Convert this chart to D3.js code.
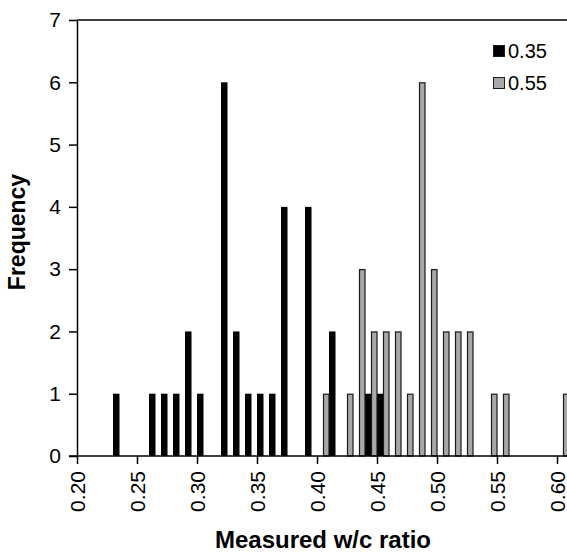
<!DOCTYPE html>
<html>
<head>
<meta charset="utf-8">
<script src="https://cdn.jsdelivr.net/npm/d3@7"></script>
<style>
  body { margin: 0; background: #fff; }
  svg { display: block; font-family: "Liberation Sans", Arial, sans-serif; }
</style>
</head>
<body>
<div class="chart"></div>
<script>
// measured w/c ratio bins (0.01 wide)
var bins = [0.23, 0.24, 0.25, 0.26, 0.27, 0.28, 0.29, 0.30, 0.31, 0.32,
            0.33, 0.34, 0.35, 0.36, 0.37, 0.38, 0.39, 0.40, 0.41, 0.42,
            0.43, 0.44, 0.45, 0.46, 0.47, 0.48, 0.49, 0.50, 0.51, 0.52,
            0.53, 0.54, 0.55, 0.56, 0.57, 0.58, 0.59, 0.60, 0.61];
// frequency for target w/c 0.35
var counts035 = [1, 0, 0, 1, 1, 1, 2, 1, 0, 6,
                 2, 1, 1, 1, 4, 0, 4, 0, 2, 0,
                 0, 1, 1, 0, 0, 0, 0, 0, 0, 0,
                 0, 0, 0, 0, 0, 0, 0, 0, 0];
// frequency for target w/c 0.55
var counts055 = [0, 0, 0, 0, 0, 0, 0, 0, 0, 0,
                 0, 0, 0, 0, 0, 0, 0, 0, 1, 0,
                 1, 3, 2, 2, 2, 1, 6, 3, 2, 2,
                 2, 0, 1, 1, 0, 0, 0, 0, 1];
var seriesNames = ["0.35", "0.55"];
var xTicks = [0.20, 0.25, 0.30, 0.35, 0.40, 0.45, 0.50, 0.55, 0.60];
var yTicks = [0, 1, 2, 3, 4, 5, 6, 7];

var width = 567,
    height = 552,
    plotLeft = 77,
    plotTop = 20,
    plotBottom = 456;

var svg = d3.select('.chart').append('svg')
    .attr('width', width)
    .attr('height', height);

var x = d3.scaleLinear().domain([0.20, 0.60]).range([plotLeft, 557]);
var y = d3.scaleLinear().domain([0, 7]).range([plotBottom, plotTop]);
var bw = x(0.205) - x(0.20);

// black bars, right half of each bin slot
svg.append('g').selectAll('rect')
    .data(bins.map(function (b, i) { return { b: b, n: counts035[i] }; })
              .filter(function (d) { return d.n > 0; }))
    .enter().append('rect')
    .attr('x', function (d) { return x(d.b); })
    .attr('width', bw + 0.5)
    .attr('y', function (d) { return y(d.n); })
    .attr('height', function (d) { return y(0) - y(d.n); })
    .attr('fill', '#000');

// grey bars, left half
svg.append('g').selectAll('rect')
    .data(bins.map(function (b, i) { return { b: b, n: counts055[i] }; })
              .filter(function (d) { return d.n > 0; }))
    .enter().append('rect')
    .attr('x', function (d) { return x(d.b) - bw + 0.5; })
    .attr('width', bw - 0.5)
    .attr('y', function (d) { return y(d.n) + 0.5; })
    .attr('height', function (d) { return y(0) - y(d.n) - 0.5; })
    .attr('fill', '#a8a8a8')
    .attr('stroke', '#1a1a1a')
    .attr('stroke-width', 1.2);

// top border
svg.append('line')
    .attr('x1', plotLeft).attr('x2', width + 5)
    .attr('y1', plotTop).attr('y2', plotTop)
    .attr('stroke', '#000').attr('stroke-width', 1.5);

var yAxis = svg.append('g')
    .attr('transform', 'translate(' + plotLeft + ',0)')
    .call(d3.axisLeft(y).tickValues(yTicks).tickSize(8).tickSizeOuter(0).tickPadding(8).tickFormat(d3.format('d')));
yAxis.select('.domain').attr('stroke-width', 1.5);
yAxis.selectAll('.tick line').attr('stroke-width', 1.5);
yAxis.selectAll('text').attr('font-size', 21).attr('fill', '#000')
    .style('font-family', '"Liberation Sans", Arial, sans-serif');

var xAxis = svg.append('g')
    .attr('transform', 'translate(0,' + plotBottom + ')')
    .call(d3.axisBottom(x).tickValues(xTicks).tickSize(8).tickSizeOuter(0).tickFormat(d3.format('.2f')));
xAxis.select('.domain').attr('d', 'M' + (plotLeft - 8) + ',0H' + (width + 5)).attr('stroke-width', 1.5);
xAxis.selectAll('.tick line').attr('stroke-width', 1.5);
xAxis.selectAll('text')
    .attr('font-size', 21).attr('fill', '#000')
    .style('font-family', '"Liberation Sans", Arial, sans-serif')
    .attr('text-anchor', 'end')
    .attr('transform', 'rotate(-90)')
    .attr('x', -15).attr('y', 0).attr('dy', '0.35em');

svg.append('text')
    .attr('x', 323).attr('y', 548)
    .attr('text-anchor', 'middle')
    .attr('font-size', 24).attr('font-weight', 'bold')
    .text('Measured w/c ratio');

svg.append('text')
    .attr('transform', 'translate(25,232) rotate(-90)')
    .attr('text-anchor', 'middle')
    .attr('font-size', 23).attr('font-weight', 'bold')
    .text('Frequency');

// legend
var legend = svg.append('g').attr('transform', 'translate(493,45)');
legend.selectAll('rect')
    .data(seriesNames).enter().append('rect')
    .attr('x', 0.5)
    .attr('y', function (d, i) { return i * 32 + 0.5; })
    .attr('width', 11).attr('height', 11)
    .attr('fill', function (d, i) { return i === 0 ? '#000' : '#a8a8a8'; })
    .attr('stroke', '#1a1a1a').attr('stroke-width', 1);
legend.selectAll('text')
    .data(seriesNames).enter().append('text')
    .attr('x', 15)
    .attr('y', function (d, i) { return i * 32 + 6; })
    .attr('dy', '0.35em')
    .attr('font-size', 20)
    .text(function (d) { return d; });
</script>
</body>
</html>
